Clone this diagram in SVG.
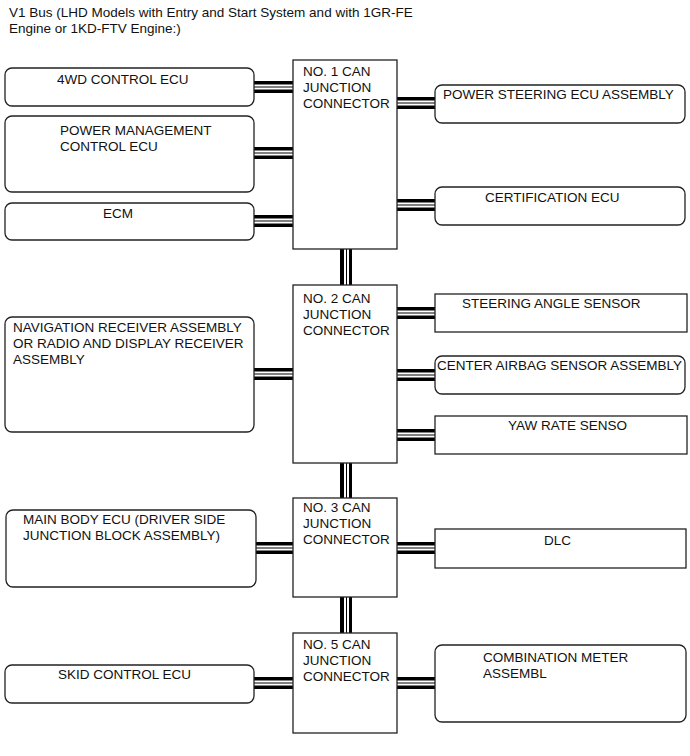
<svg xmlns="http://www.w3.org/2000/svg" width="690" height="756" viewBox="0 0 690 756">
<style>
text{font-family:"Liberation Sans",Arial,sans-serif;font-size:13.5px;fill:#111}
.box{fill:#fff;stroke:#222;stroke-width:1.3}
.jc{fill:#fff;stroke:#222;stroke-width:1.3}
.bk{fill:#000}
.wh{fill:#fff}
</style>
<defs>
<g id="hbus">
<rect class="bk" x="0" y="0" width="1" height="12"/>
</g>
</defs>
<rect width="690" height="756" fill="#fff"/>
<text x="9" y="17">V1 Bus (LHD Models with Entry and Start System and with 1GR-FE</text>
<text x="9" y="33">Engine or 1KD-FTV Engine:)</text>

<g id="connectors">
<!-- horizontal bus: black band 12px with two white gaps -->
<g transform="translate(254,81)"><rect class="bk" width="39" height="12"/><rect class="wh" y="3.5" width="39" height="2"/><rect class="wh" y="6.5" width="39" height="2"/></g>
<g transform="translate(254,147)"><rect class="bk" width="39" height="12"/><rect class="wh" y="3.5" width="39" height="2"/><rect class="wh" y="6.5" width="39" height="2"/></g>
<g transform="translate(254,215)"><rect class="bk" width="39" height="12"/><rect class="wh" y="3.5" width="39" height="2"/><rect class="wh" y="6.5" width="39" height="2"/></g>
<g transform="translate(397,97)"><rect class="bk" width="38" height="12"/><rect class="wh" y="3.5" width="38" height="2"/><rect class="wh" y="6.5" width="38" height="2"/></g>
<g transform="translate(397,199)"><rect class="bk" width="38" height="12"/><rect class="wh" y="3.5" width="38" height="2"/><rect class="wh" y="6.5" width="38" height="2"/></g>
<g transform="translate(254,368)"><rect class="bk" width="39" height="12"/><rect class="wh" y="3.5" width="39" height="2"/><rect class="wh" y="6.5" width="39" height="2"/></g>
<g transform="translate(397,307)"><rect class="bk" width="38" height="12"/><rect class="wh" y="3.5" width="38" height="2"/><rect class="wh" y="6.5" width="38" height="2"/></g>
<g transform="translate(397,369)"><rect class="bk" width="38" height="12"/><rect class="wh" y="3.5" width="38" height="2"/><rect class="wh" y="6.5" width="38" height="2"/></g>
<g transform="translate(397,429)"><rect class="bk" width="38" height="12"/><rect class="wh" y="3.5" width="38" height="2"/><rect class="wh" y="6.5" width="38" height="2"/></g>
<g transform="translate(254,542)"><rect class="bk" width="39" height="12"/><rect class="wh" y="3.5" width="39" height="2"/><rect class="wh" y="6.5" width="39" height="2"/></g>
<g transform="translate(397,542)"><rect class="bk" width="38" height="12"/><rect class="wh" y="3.5" width="38" height="2"/><rect class="wh" y="6.5" width="38" height="2"/></g>
<g transform="translate(254,677)"><rect class="bk" width="39" height="12"/><rect class="wh" y="3.5" width="39" height="2"/><rect class="wh" y="6.5" width="39" height="2"/></g>
<g transform="translate(397,677)"><rect class="bk" width="38" height="12"/><rect class="wh" y="3.5" width="38" height="2"/><rect class="wh" y="6.5" width="38" height="2"/></g>
<!-- vertical buses -->
<g transform="translate(340,249)"><rect class="bk" width="12" height="36"/><rect class="wh" x="4" width="2" height="36"/><rect class="wh" x="7" width="2" height="36"/></g>
<g transform="translate(340,463)"><rect class="bk" width="12" height="35"/><rect class="wh" x="4" width="2" height="35"/><rect class="wh" x="7" width="2" height="35"/></g>
<g transform="translate(340,597)"><rect class="bk" width="12" height="36"/><rect class="wh" x="4" width="2" height="36"/><rect class="wh" x="7" width="2" height="36"/></g>
</g>

<g id="jc1"><rect class="jc" x="293" y="60" width="104" height="189"/>
<text x="303" y="76">NO. 1 CAN</text><text x="303" y="92">JUNCTION</text><text x="303" y="108">CONNECTOR</text></g>
<g id="jc2"><rect class="jc" x="293" y="285" width="104" height="178"/>
<text x="303" y="303">NO. 2 CAN</text><text x="303" y="319">JUNCTION</text><text x="303" y="335">CONNECTOR</text></g>
<g id="jc3"><rect class="jc" x="293" y="498" width="104" height="99"/>
<text x="303" y="512">NO. 3 CAN</text><text x="303" y="528">JUNCTION</text><text x="303" y="544">CONNECTOR</text></g>
<g id="jc5"><rect class="jc" x="293" y="633" width="104" height="100"/>
<text x="303" y="649">NO. 5 CAN</text><text x="303" y="665">JUNCTION</text><text x="303" y="681">CONNECTOR</text></g>

<g id="ecu4wd"><rect class="box" x="5" y="68" width="249" height="38" rx="7"/><text x="57" y="84">4WD CONTROL ECU</text></g>
<g id="pmecu"><rect class="box" x="5" y="116" width="249" height="76" rx="7"/><text x="60" y="135">POWER MANAGEMENT</text><text x="60" y="151">CONTROL ECU</text></g>
<g id="ecm"><rect class="box" x="5" y="203" width="249" height="37" rx="7"/><text x="103" y="218">ECM</text></g>
<g id="ps"><rect class="box" x="435" y="85" width="250" height="38" rx="7"/><text x="443" y="99">POWER STEERING ECU ASSEMBLY</text></g>
<g id="cert"><rect class="box" x="435" y="187" width="250" height="38" rx="7"/><text x="485" y="202">CERTIFICATION ECU</text></g>
<g id="nav"><rect class="box" x="5" y="317" width="249" height="115" rx="7"/><text x="13" y="332">NAVIGATION RECEIVER ASSEMBLY</text><text x="13" y="348">OR RADIO AND DISPLAY RECEIVER</text><text x="13" y="364">ASSEMBLY</text></g>
<g id="sas"><rect class="box" x="435" y="294" width="252" height="38"/><text x="462" y="308">STEERING ANGLE SENSOR</text></g>
<g id="airbag"><rect class="box" x="435" y="356" width="250" height="38" rx="7"/><text x="437" y="370">CENTER AIRBAG SENSOR ASSEMBLY</text></g>
<g id="yaw"><rect class="box" x="435" y="416" width="252" height="38"/><text x="508" y="430">YAW RATE SENSO</text></g>
<g id="mainbody"><rect class="box" x="6" y="510" width="250" height="77" rx="7"/><text x="23" y="524">MAIN BODY ECU (DRIVER SIDE</text><text x="23" y="540">JUNCTION BLOCK ASSEMBLY)</text></g>
<g id="dlc"><rect class="box" x="435" y="529" width="251" height="39"/><text x="544" y="545">DLC</text></g>
<g id="skid"><rect class="box" x="5" y="665" width="249" height="38" rx="7"/><text x="58" y="679">SKID CONTROL ECU</text></g>
<g id="meter"><rect class="box" x="435" y="645" width="251" height="77" rx="7"/><text x="483" y="662">COMBINATION METER</text><text x="483" y="678">ASSEMBL</text></g>
</svg>
